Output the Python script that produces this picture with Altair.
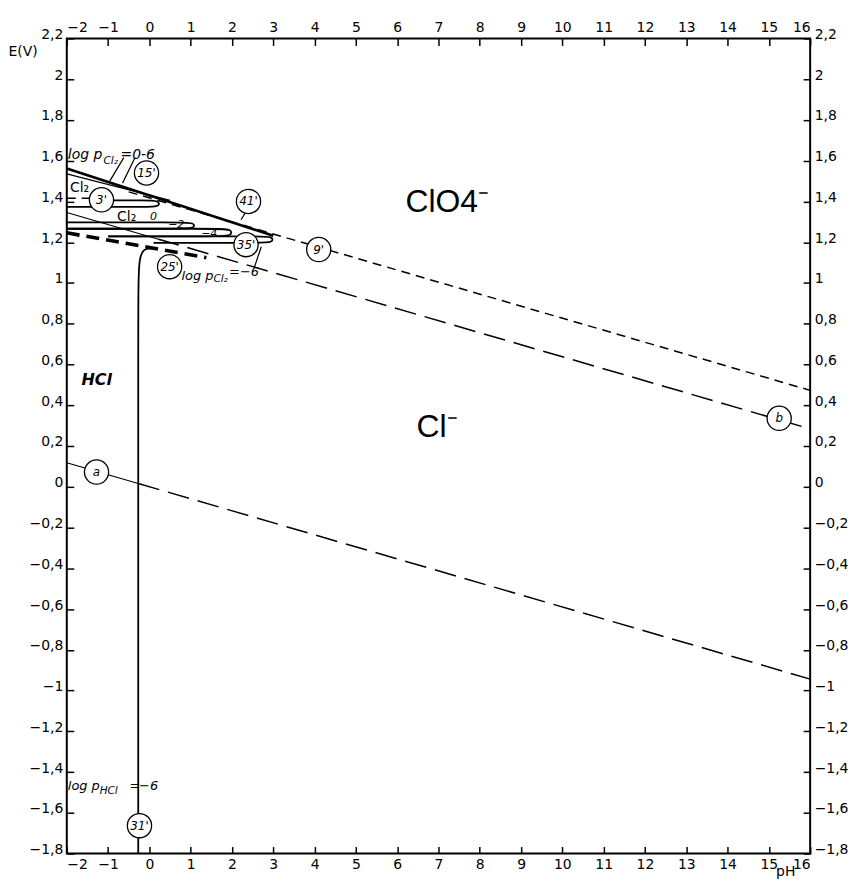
import altair as alt
import pandas as pd

# ---------------- axis ticks ----------------
X_TICKS = [-2, -1, 0, 1, 2, 3, 4, 5, 6, 7, 8, 9, 10, 11, 12, 13, 14, 15, 16]
Y_TICKS = [-1.8, -1.6, -1.4, -1.2, -1.0, -0.8, -0.6, -0.4, -0.2, 0.0, 0.2,
           0.4, 0.6, 0.8, 1.0, 1.2, 1.4, 1.6, 1.8, 2.0, 2.2]

# ---------------- boundary lines (pH, E) ----------------
LINE_A_SOLID_PH = [-2.0, -0.27]
LINE_A_SOLID_E = [0.118, 0.016]
LINE_A_DASH_PH = [-0.27, 16.0]
LINE_A_DASH_E = [0.016, -0.944]
LINE_B_SOLID_PH = [-2.0, 0.2]
LINE_B_SOLID_E = [1.346, 1.216]
LINE_B_DASH_PH = [0.2, 16.0]
LINE_B_DASH_E = [1.216, 0.284]
LINE_9_PH = [-0.5, 16.0]
LINE_9_E = [1.447, 0.473]
LINE_41_PH = [-2.0, 3.0]
LINE_41_E = [1.562, 1.232]
LINE_15_PH = [-2.0, 0.5]
LINE_15_E = [1.535, 1.405]
LINE_25_PH = [-2.0, 1.38]
LINE_25_E = [1.246, 1.124]
CL2_DASH_PH = [-2.0, -1.4]
CL2_DASH_E = [1.416, 1.416]
HCL_PH = [-0.27, -0.27, -0.27, 0.0, 0.15]
HCL_E = [-1.8, 0.9, 1.16, 1.17, 1.17]

# Cl2 domains (tongues) for the log p contours
TONGUE_TOP = [1.405, 1.297, 1.266, 1.229]
TONGUE_BOTTOM = [1.373, 1.266, 1.229, 1.197]
TONGUE_END = [0.25, 1.10, 2.00, 3.00]
TONGUE_TOP_START = [-0.90, -2.0, -2.0, -1.0]
TONGUE_BOTTOM_START = [-2.0, -2.0, -1.0, 0.1]

# leader lines (pH0, E0, pH1, E1)
LEADER_PH0 = [-0.62, -0.35, 2.34, 2.71]
LEADER_E0 = [1.615, 1.615, 1.350, 1.178]
LEADER_PH1 = [-0.96, -0.65, 2.22, 2.54]
LEADER_E1 = [1.500, 1.490, 1.310, 1.076]

# circled labels
CIRCLE_LABELS = ["15'", "3'", "41'", "35'", "25'", "9'", "a", "b", "31'"]
CIRCLE_PH = [-0.07, -1.16, 2.40, 2.34, 0.49, 4.10, -1.28, 15.25, -0.24]
CIRCLE_E = [1.540, 1.408, 1.400, 1.188, 1.080, 1.164, 0.072, 0.336, -1.663]

# text labels
BIG_LABELS = ["ClO4⁻", "Cl⁻"]
BIG_PH = [6.2, 6.47]
BIG_E = [1.35, 0.245]

LOGP1_LABELS = ["log p", "=0-6"]
LOGP1_PH = [-1.975, -0.70]
LOGP1_E = [1.628, 1.630]

LOGP_LABELS = ["log p", "=−6", "log p", "=", "−6"]
LOGP_PH = [0.775, 1.93, -1.976, -0.48, -0.25]
LOGP_E = [1.032, 1.056, -1.467, -1.467, -1.467]

SUB_LABELS = ["Cl₂", "Cl₂", "HCl"]
SUB_PH = [-1.11, 1.55, -1.204]
SUB_E = [1.600, 1.017, -1.491]

CL2_LABELS = ["Cl₂", "Cl₂"]
CL2_PH = [-1.69, -0.55]
CL2_E = [1.467, 1.322]

NUM_LABELS = ["0", "−2", "−4"]
NUM_PH = [0.10, 0.65, 1.45]
NUM_E = [1.325, 1.282, 1.240]

HCL_LABEL = ["HCl"]
HCL_LABEL_PH = [-1.276]
HCL_LABEL_E = [0.523]

# ---------------- build tables ----------------
rows = []


def add_line(name, style, phs, es):
    for i, (p, e) in enumerate(zip(phs, es)):
        rows.append({"seg": name, "style": style, "ord": i, "pH": p, "E": e})


add_line("a1", "thin", LINE_A_SOLID_PH, LINE_A_SOLID_E)
add_line("a2", "longdash", LINE_A_DASH_PH, LINE_A_DASH_E)
add_line("b1", "thin", LINE_B_SOLID_PH, LINE_B_SOLID_E)
add_line("b2", "longdash", LINE_B_DASH_PH, LINE_B_DASH_E)
add_line("9", "shortdash", LINE_9_PH, LINE_9_E)
add_line("cl2d", "shortdash", CL2_DASH_PH, CL2_DASH_E)
add_line("41", "thick", LINE_41_PH, LINE_41_E)
add_line("15", "thin", LINE_15_PH, LINE_15_E)
add_line("25", "thickdash", LINE_25_PH, LINE_25_E)
add_line("hcl", "curve", HCL_PH, HCL_E)
for k in range(len(TONGUE_TOP)):
    t, b, e = TONGUE_TOP[k], TONGUE_BOTTOM[k], TONGUE_END[k]
    add_line(f"tongue{k}", "curve",
             [TONGUE_TOP_START[k], e - 0.4, e, e, e - 0.4, TONGUE_BOTTOM_START[k]],
             [t, t, t, b, b, b])
for k in range(len(LEADER_PH0)):
    add_line(f"lead{k}", "thin", [LEADER_PH0[k], LEADER_PH1[k]],
             [LEADER_E0[k], LEADER_E1[k]])
lines_df = pd.DataFrame(rows)


def tdf(labels, phs, es):
    return pd.DataFrame({"label": labels, "pH": phs, "E": es})


circles_df = tdf(CIRCLE_LABELS, CIRCLE_PH, CIRCLE_E)
corner_df = pd.DataFrame({"pH": [-2, 16], "E": [-1.8, 2.2]})

# ---------------- scales / axes ----------------
W, H = 746, 818
FONT = "DejaVu Sans"
xs = alt.Scale(domain=[-2, 16], nice=False, zero=False)
ys = alt.Scale(domain=[-1.8, 2.2], nice=False, zero=False)
LAB_X = "replace(format(datum.value, 'd'), '-', '−')"
LAB_Y = "replace(replace(format(datum.value, '.1~f'), '.', ','), '-', '−')"


def label_axis_x(orient, **kw):
    return alt.Axis(orient=orient, values=X_TICKS, ticks=False, tickSize=0,
                    domain=False, grid=False, labelExpr=LAB_X, labelFont=FONT,
                    labelFontSize=14, labelColor="black", labelPadding=4, **kw)


def label_axis_y(orient, **kw):
    return alt.Axis(orient=orient, values=Y_TICKS, ticks=False, tickSize=0,
                    domain=False, grid=False, labelExpr=LAB_Y, labelFont=FONT,
                    labelFontSize=14, labelColor="black", labelPadding=4,
                    labelBaseline="alphabetic", labelFlush=True, **kw)


def tick_axis_x(orient):
    return alt.Axis(orient=orient, offset=-H, values=X_TICKS, labels=False,
                    domain=False, grid=False, ticks=True, tickSize=7,
                    tickWidth=1.5, tickColor="black", title="")


def tick_axis_y(orient):
    return alt.Axis(orient=orient, offset=-W, values=Y_TICKS, labels=False,
                    domain=False, grid=False, ticks=True, tickSize=7,
                    tickWidth=1.5, tickColor="black", title="")


def axis_layer(ax_x, ax_y):
    return alt.Chart(corner_df).mark_point(opacity=0).encode(
        x=alt.X("pH:Q", scale=xs, axis=ax_x),
        y=alt.Y("E:Q", scale=ys, axis=ax_y),
    )


layers = [
    axis_layer(
        label_axis_x("bottom", title="pH", titleX=721, titleY=11,
                     titleAlign="center", titleBaseline="top", titleFont=FONT,
                     titleFontSize=14, titleFontWeight="normal", titleColor="black"),
        label_axis_y("left", title="E(V)", titleAngle=0, titleX=-59, titleY=13,
                     titleAlign="left", titleBaseline="middle", titleFont=FONT,
                     titleFontSize=14, titleFontWeight="normal", titleColor="black"),
    ),
    axis_layer(label_axis_x("top", title=""), label_axis_y("right", title="")),
    axis_layer(tick_axis_x("top"), tick_axis_y("right")),
    axis_layer(tick_axis_x("bottom"), tick_axis_y("left")),
]

XE = alt.X("pH:Q", scale=xs, axis=None)
YE = alt.Y("E:Q", scale=ys, axis=None)

STYLES = {
    "thin": dict(strokeWidth=1.2),
    "longdash": dict(strokeWidth=1.5, strokeDash=[22, 9]),
    "shortdash": dict(strokeWidth=1.5, strokeDash=[9, 6]),
    "thick": dict(strokeWidth=2.6),
    "thickdash": dict(strokeWidth=3.6, strokeDash=[13, 7]),
    "curve": dict(strokeWidth=1.8, interpolate="basis"),
}
for style, props in STYLES.items():
    layers.append(
        alt.Chart(lines_df).transform_filter(alt.datum.style == style)
        .mark_line(color="black", strokeCap="butt", **props)
        .encode(x=XE, y=YE, detail="seg:N", order="ord:Q")
    )

layers.append(
    alt.Chart(circles_df).mark_circle(fill="white", stroke="black", strokeWidth=1.3,
                                      size=590, opacity=1, fillOpacity=1)
    .encode(x=XE, y=YE)
)
layers.append(
    alt.Chart(circles_df).mark_text(font=FONT, fontSize=12, fontStyle="italic",
                                    align="center", baseline="middle", color="black")
    .encode(x=XE, y=YE, text="label:N")
)


def text_layer(df, **props):
    base = dict(font=FONT, color="black")
    base.update(props)
    return alt.Chart(df).mark_text(**base).encode(x=XE, y=YE, text="label:N")


layers.append(text_layer(tdf(BIG_LABELS, BIG_PH, BIG_E), font="Liberation Sans",
                         fontSize=32, align="left", baseline="alphabetic"))
layers.append(text_layer(tdf(HCL_LABEL, HCL_LABEL_PH, HCL_LABEL_E), fontSize=16,
                         fontStyle="italic", fontWeight="bold", align="center",
                         baseline="middle"))
layers.append(text_layer(tdf(LOGP1_LABELS, LOGP1_PH, LOGP1_E), fontSize=14,
                         fontStyle="italic", align="left", baseline="middle"))
layers.append(text_layer(tdf(LOGP_LABELS, LOGP_PH, LOGP_E), fontSize=13,
                         fontStyle="italic", align="left", baseline="middle"))
layers.append(text_layer(tdf(SUB_LABELS, SUB_PH, SUB_E), fontSize=10.5,
                         fontStyle="italic", align="left", baseline="middle"))
layers.append(text_layer(tdf(CL2_LABELS, CL2_PH, CL2_E), fontSize=14,
                         align="center", baseline="middle"))
layers.append(text_layer(tdf(NUM_LABELS, NUM_PH, NUM_E), fontSize=11,
                         fontStyle="italic", align="center", baseline="middle"))

chart = (
    alt.layer(*layers)
    .resolve_axis(x="independent", y="independent")
    .properties(width=W, height=H,
                autosize=alt.AutoSizeParams(type="none"),
                padding={"left": 59, "top": 29, "right": 45, "bottom": 24},
                background="white")
    .configure_view(stroke="black", strokeWidth=2)
)

chart.save("out.html", embed_options={"renderer": "svg", "actions": False})
